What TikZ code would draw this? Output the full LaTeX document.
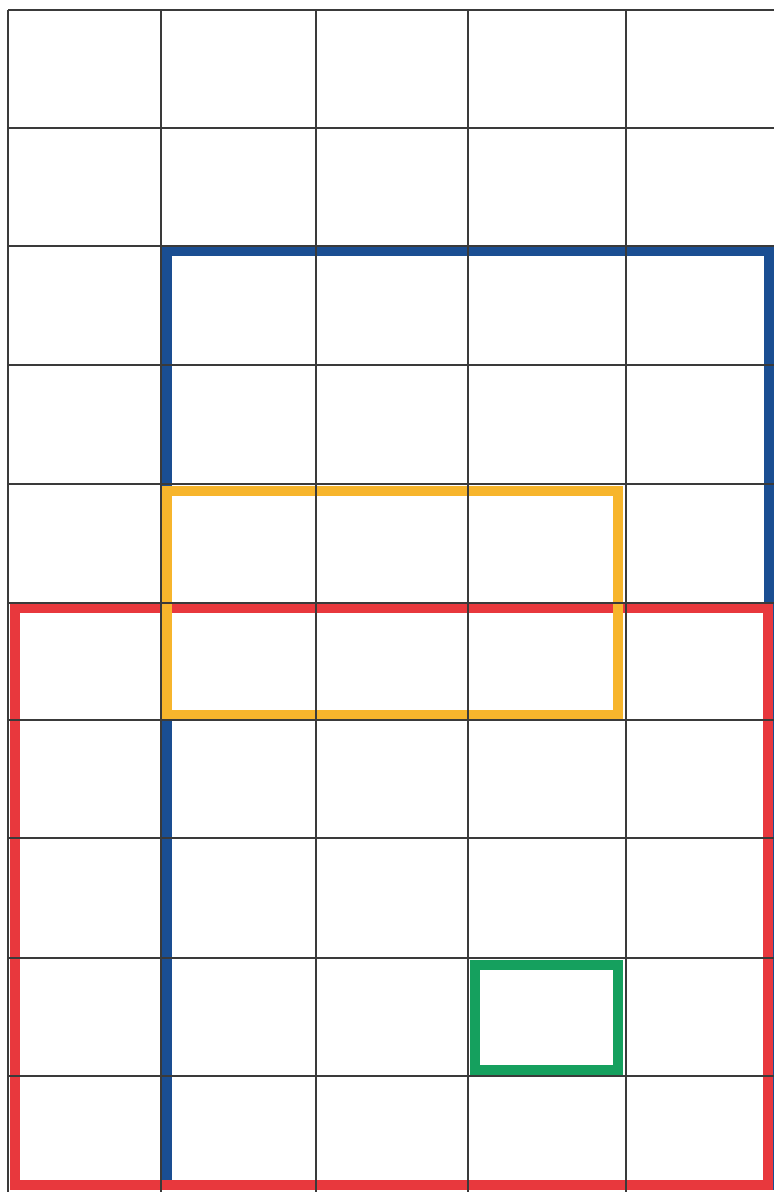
\documentclass[tikz,border=0pt]{standalone}
\usetikzlibrary{backgrounds}
\definecolor{gblue}{HTML}{1A4E92}
\definecolor{gred}{HTML}{E8383D}
\definecolor{gyellow}{HTML}{F7B52C}
\definecolor{ggreen}{HTML}{15A05E}
\definecolor{ggrid}{HTML}{3A3A3A}
\tikzset{
  gridline/.style={draw=ggrid, line width=0.9pt},
  frame/.style={line width=5pt, line join=miter},
}
\begin{document}
\begin{tikzpicture}[x=0.5pt,y=-0.5pt]
\useasboundingbox[fill=white] (0,0) rectangle (774,1192);
% coloured frames (inset inside the grid lines)
\draw[frame, draw=gblue]   (167,251) rectangle (769,1185);
\draw[frame, draw=gred]    (15,608) rectangle (768,1185);
\draw[frame, draw=gyellow] (167,491) rectangle (618,715);
\draw[frame, draw=ggreen]  (475,965) rectangle (618,1070);
% grid
\foreach \x in {8,161,316,468,626}
  \draw[gridline] (\x,10) -- (\x,1192);
\foreach \y in {10,128,246,365,484,603,720,838,958,1076}
  \draw[gridline] (8,\y) -- (774,\y);
\end{tikzpicture}
\end{document}
